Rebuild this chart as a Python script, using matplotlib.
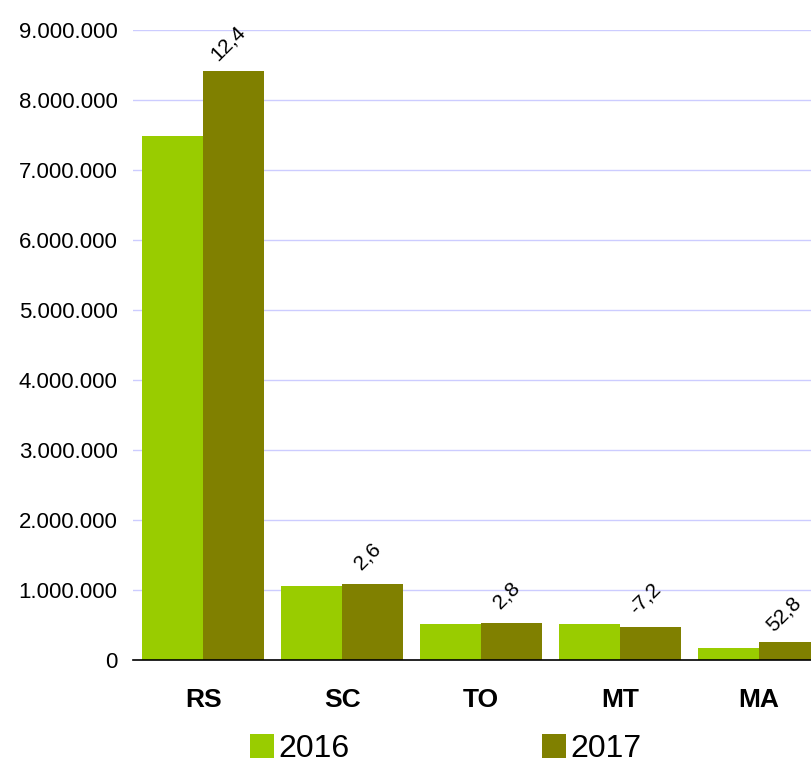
import numpy as np
import matplotlib
matplotlib.use("Agg")
import matplotlib.pyplot as plt
from matplotlib.ticker import FuncFormatter

# ── Data ──────────────────────────────────────────────────────────────────────
states = ["RS", "SC", "TO", "MT", "MA"]
values_2016 = [7490000, 1057000, 514000, 514000, 171000]
values_2017 = [8420000, 1084000, 528000, 477000, 261000]
growth_pct = ["12,4", "2,6", "2,8", "-7,2", "52,8"]
series_labels = ["2016", "2017"]

COLOR_2016 = "#99CC00"
COLOR_2017 = "#808000"
GRID_COLOR = "#CCCCFF"

plt.rcParams.update({
    "font.family": ["Liberation Sans", "DejaVu Sans"],
})

fig = plt.figure(figsize=(8.12, 7.66), dpi=100)
ax = fig.add_axes([133 / 812, 1 - 660 / 766, 1 - 133 / 812, (660 - 30) / 766])

x = np.arange(len(states))
w = 0.44
b1 = ax.bar(x - w / 2, values_2016, width=w, color=COLOR_2016, label=series_labels[0], zorder=2)
b2 = ax.bar(x + w / 2, values_2017, width=w, color=COLOR_2017, label=series_labels[1], zorder=2)

# growth labels above the 2017 bars
for rect, lab in zip(b2, growth_pct):
    ax.annotate(lab, (rect.get_x() + rect.get_width() / 2, rect.get_height()),
                xytext=(-4, 20), textcoords="offset points",
                rotation=45, ha="center", va="center", fontsize=15,
                annotation_clip=False)

ax.set_xlim(-0.505, 4.38)
ax.set_ylim(0, 9000000)
ax.set_yticks(np.arange(0, 9000001, 1000000))
ax.yaxis.set_major_formatter(FuncFormatter(lambda v, p: f"{int(v):,}".replace(",", ".")))
ax.yaxis.grid(True, color=GRID_COLOR, linewidth=1, zorder=0)
ax.set_axisbelow(True)

ax.set_xticks(x)
ax.set_xticklabels(states, fontsize=19, fontweight="bold")
ax.tick_params(axis="x", length=0, pad=20)
ax.tick_params(axis="y", length=0, pad=11, labelsize=16)

for s in ["top", "right", "left"]:
    ax.spines[s].set_visible(False)
ax.spines["bottom"].set_color("black")
ax.spines["bottom"].set_linewidth(1.2)
ax.spines["bottom"].set_zorder(3)

fig.legend(handles=[b1, b2], labels=series_labels, loc="center",
           bbox_to_anchor=(0.549, 0.022), ncol=2, frameon=False,
           fontsize=23, handlelength=0.75, handleheight=0.75,
           handletextpad=0.15, columnspacing=6.0, borderpad=0)

fig.savefig("out.png", dpi=100)
